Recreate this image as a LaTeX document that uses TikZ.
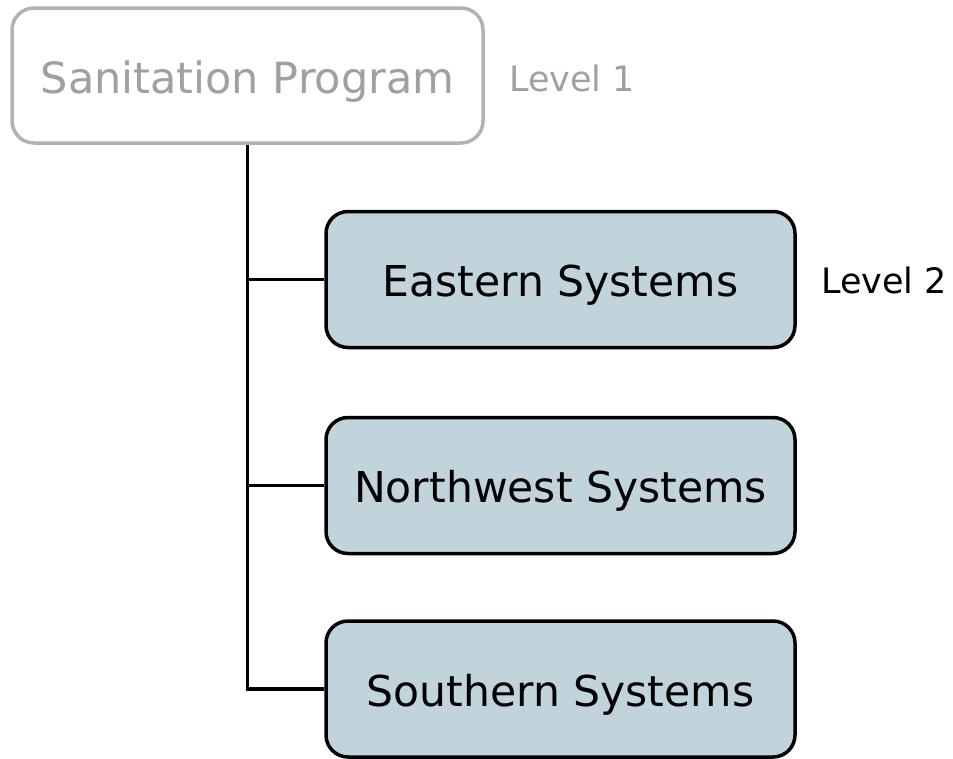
\documentclass[tikz,border=0pt]{standalone}
\usepackage{fontspec}
\setmainfont{DejaVu Sans}
\definecolor{boxfill}{RGB}{193,211,219}
\definecolor{dimgray}{RGB}{178,178,178}
\definecolor{dimtext}{RGB}{160,160,160}
\begin{document}
\begin{tikzpicture}[x=1pt,y=-1pt,
  unitbox/.style={draw=black, line width=3.5pt, fill=boxfill, rounded corners=22pt,
    minimum width=469pt, minimum height=136pt, inner sep=0pt,
    text height=34pt, text depth=0pt,
    font=\fontsize{42.5}{48}\selectfont},
  rootbox/.style={draw=dimgray, line width=3.5pt, fill=white, rounded corners=22pt,
    minimum width=471pt, minimum height=135pt, inner sep=0pt, text=dimtext,
    text height=35pt, text depth=0pt,
    font=\fontsize{43}{48}\selectfont},
  levellabel/.style={anchor=west, inner sep=0pt, font=\fontsize{35}{40}\selectfont},
  link/.style={draw=black, line width=3.5pt}]
\useasboundingbox (0,0) rectangle (953,758);
\node[rootbox] (root) at (247.5,75.5) {Sanitation Program};
\node[levellabel, text=dimtext] (lvl1) at (509,78) {Level 1};
\node[unitbox] (east) at (560.5,279.5) {Eastern Systems};
\node[unitbox] (nwest) at (560.5,485.5) {Northwest Systems};
\node[unitbox] (south) at (560.5,689) {Southern Systems};
\node[levellabel] (lvl2) at (821,280) {Level 2};
\draw[link] (root.south) |- (south.west);
\draw[link] (root.south |- east.west) -- (east.west);
\draw[link] (root.south |- nwest.west) -- (nwest.west);
\end{tikzpicture}
\end{document}
